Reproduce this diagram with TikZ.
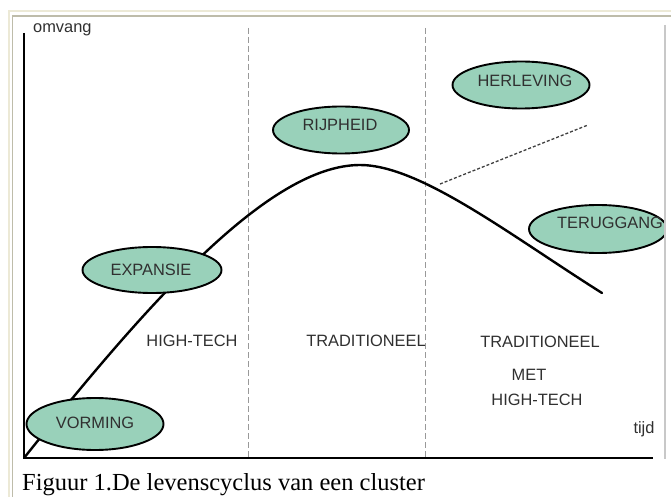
\documentclass[tikz,border=0pt]{standalone}
\usepackage{fontspec}
\setmainfont{Liberation Serif}
\newfontfamily\arialfont{Liberation Sans}
\usetikzlibrary{shapes.geometric}
\definecolor{phasefill}{RGB}{153,209,186}
\definecolor{labelgray}{RGB}{48,48,48}
\definecolor{framecream}{RGB}{236,233,214}
\definecolor{frameolive}{RGB}{190,188,170}
\definecolor{framegray}{RGB}{200,200,200}
\tikzset{
  phase/.style={ellipse, draw=black, line width=1.9pt, fill=phasefill, inner sep=0pt},
  lbl/.style={font=\arialfont\fontsize{16.4}{18}\selectfont, text=labelgray, inner sep=0pt, anchor=base},
  divider/.style={draw=gray!80, line width=1pt, dash pattern=on 6pt off 3pt},
  axis/.style={draw=black, line width=2.2pt},
  lifecurve/.style={draw=black, line width=2.4pt, line cap=round},
  revival/.style={draw=black!75, line width=1.3pt, dash pattern=on 3pt off 2pt}
}
\begin{document}
\begin{tikzpicture}[x=1pt,y=-1pt]
\useasboundingbox[fill=white] (0,0) rectangle (671,497);
% frame
\draw[framecream, line width=2pt] (671,11) -- (8.5,11) -- (8.5,497);
\draw[frameolive, line width=1.2pt] (671,16) -- (12.5,16) -- (12.5,497);
% axes
\coordinate (origin) at (24,458);
\coordinate (ytop) at (24,33);
\coordinate (xend) at (653,458);
\draw[axis] (ytop) -- (origin) -- (xend);
% dividers
\coordinate (d1t) at (248,28); \coordinate (d1b) at (248,458);
\coordinate (d2t) at (425,28); \coordinate (d2b) at (425,458);
\draw[divider] (d1t) -- (d1b);
\draw[divider] (d2t) -- (d2b);
\begin{scope}
\clip (0,0) rectangle (665,497);
% life curve
\coordinate (peak) at (360,165);
\coordinate (cend) at (602,293);
\draw[lifecurve] (origin) .. controls (150,300) and (270,165) .. (peak)
  .. controls (420,165) and (510,235) .. (cend);
% revival
\coordinate (rv1) at (440,184);
\coordinate (rv2) at (588,125);
\draw[revival] (rv1) -- (rv2);
% phases
\node[phase, minimum width=136pt, minimum height=47pt] (rijp) at (341,130) {};
\node[phase, minimum width=137pt, minimum height=47pt] (herl) at (521,85) {};
\node[phase, minimum width=138pt, minimum height=48pt] (terug) at (598,229) {};
\node[phase, minimum width=139pt, minimum height=46pt] (expa) at (152,270) {};
\node[phase, minimum width=137pt, minimum height=52pt] (vorm) at (95,424) {};
\node[lbl] (rijpT) at (340,131) {RIJPHEID};
\node[lbl] (herlT) at (525,87) {HERLEVING};
\node[lbl, anchor=base west] (terugT) at (557,228) {TERUGGANG};
\node[lbl] (expaT) at (151,275) {EXPANSIE};
\node[lbl] (vormT) at (95,428) {VORMING};
\end{scope}
\draw[framegray, line width=1.5pt] (665,25) -- (665,459);
% labels
\node[lbl, anchor=base west] (omvang) at (33,33) {omvang};
\node[lbl] (ht1) at (192,346) {HIGH-TECH};
\node[lbl] (tr1) at (366,346) {TRADITIONEEL};
\node[lbl] (tr2) at (540,347) {TRADITIONEEL};
\node[lbl] (met) at (529,380) {MET};
\node[lbl] (ht2) at (537,405) {HIGH-TECH};
\node[lbl] (tijd) at (644,433) {tijd};
% caption
\node[anchor=base west, inner sep=0pt, font=\fontsize{24.5}{28}\selectfont] (caption) at (22,490) {Figuur 1.De levenscyclus van een cluster};
\end{tikzpicture}
\end{document}
